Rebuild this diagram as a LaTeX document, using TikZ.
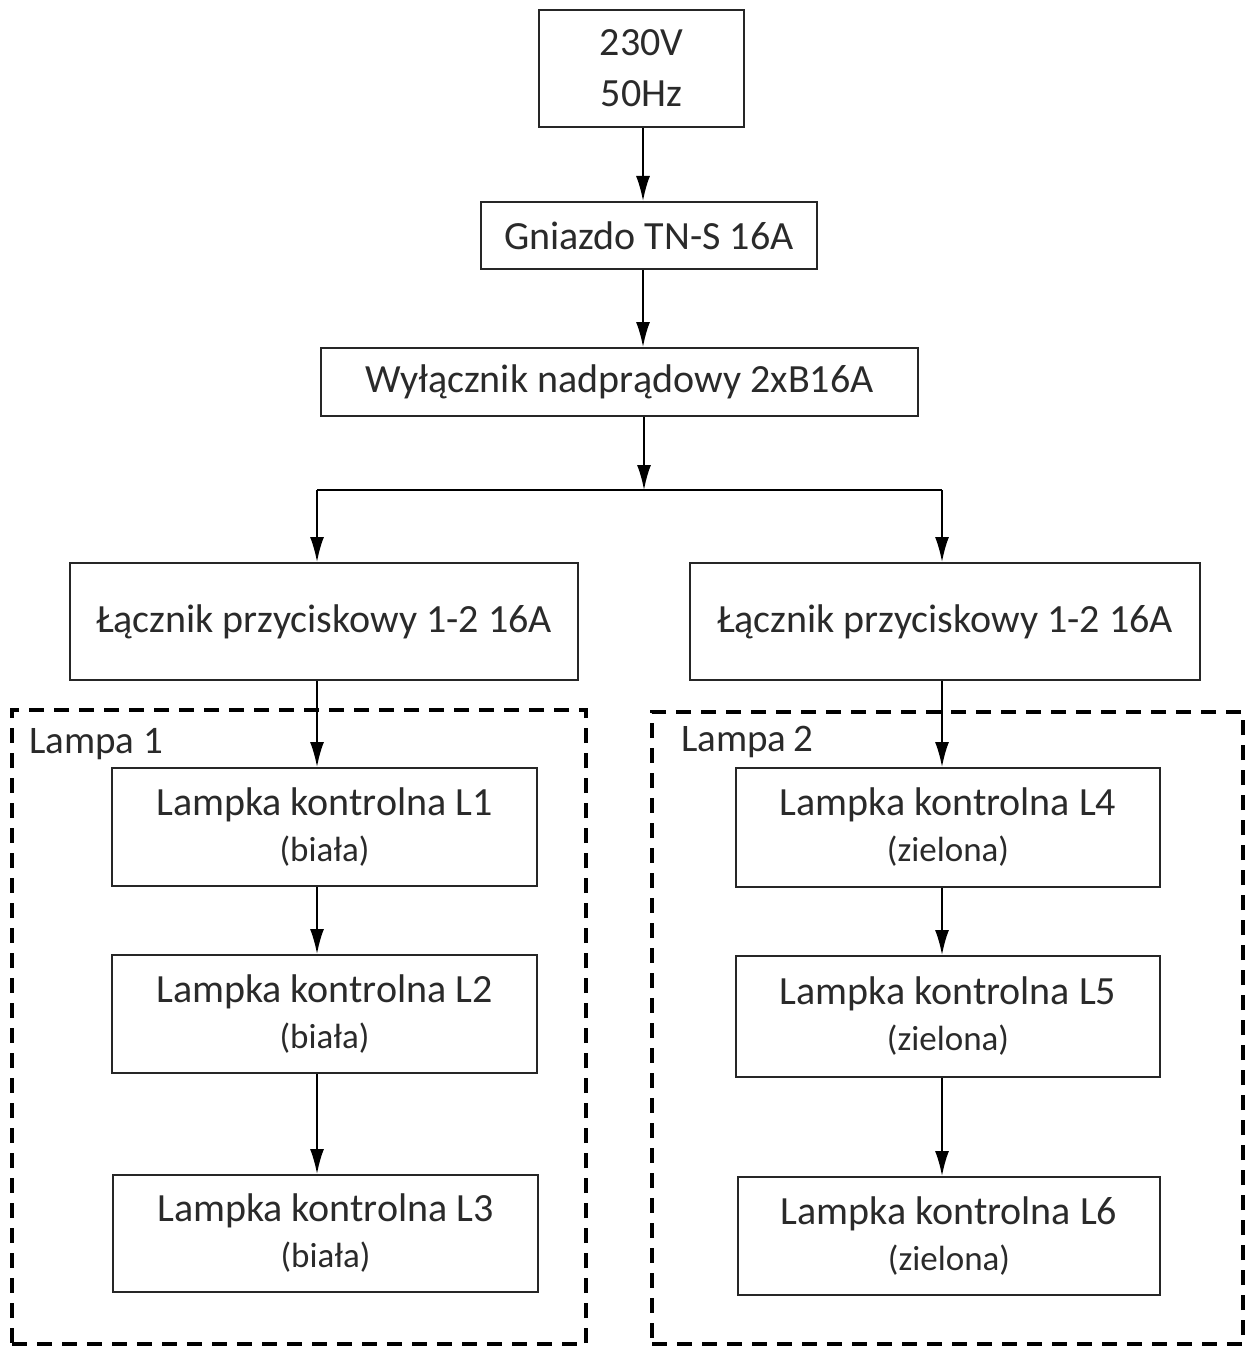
\documentclass[tikz,border=0pt]{standalone}
\usepackage{fontspec}
\setmainfont{Carlito}
\usetikzlibrary{arrows.meta}
\definecolor{txt}{HTML}{2A2A2A}
\tikzset{
  box/.style={draw=black!85, line width=2pt, rectangle, align=center, inner sep=0pt, text=txt},
  group/.style={draw=black, line width=3.6pt, dash pattern=on 15pt off 10pt, rectangle, inner sep=0pt},
  arr/.style={draw=black, line width=1.8pt, -{Latex[length=25pt,width=14pt]}},
  wire/.style={draw=black, line width=1.8pt},
  grplabel/.style={anchor=west, inner sep=0pt, font=\fontsize{39}{44}\selectfont, text=txt},
  lampfont/.style={font=\fontsize{40}{46}\selectfont},
  onefont/.style={font=\fontsize{40}{46}\selectfont}
}
\newcommand{\lampsub}[1]{{\fontsize{35}{46}\selectfont #1}}
\begin{document}
\begin{tikzpicture}[x=1pt,y=-1pt]
\useasboundingbox (0,0) rectangle (1246,1348);
\fill[white] (0,0) rectangle (1246,1348);

% column helpers
\coordinate (cm) at (643,0);
\coordinate (cl) at (317,0);
\coordinate (cr) at (942,0);

% top chain
\node[box, minimum width=205pt, minimum height=117pt, font=\fontsize{40}{51}\selectfont] (src) at (641.5,68.5) {230V\\50Hz};
\node[box, onefont, minimum width=336pt, minimum height=67pt] (gn) at (649,235.5) {Gniazdo TN-S 16A};
\node[box, onefont, minimum width=597pt, minimum height=68pt] (wyl) at (619.5,382) {Wyłącznik nadprądowy 2xB16A};

% branch switches
\node[box, onefont, minimum width=508pt, minimum height=117pt] (lk1) at (324,621.5) {Łącznik przyciskowy 1-2 16A};
\node[box, onefont, minimum width=510pt, minimum height=117pt] (lk2) at (945,621.5) {Łącznik przyciskowy 1-2 16A};

% group frames
\node[group, minimum width=574pt, minimum height=634pt] (g1) at (299,1027) {};
\node[group, minimum width=591pt, minimum height=632pt] (g2) at (947.5,1028) {};
\node[grplabel] (g1l) at (29,744) {Lampa 1};
\node[grplabel] (g2l) at (681,742) {Lampa\,2};

% lamps left
\node[box, lampfont, minimum width=425pt, minimum height=118pt] (l1) at (324.5,827) {Lampka kontrolna L1\\\lampsub{(biała)}};
\node[box, lampfont, minimum width=425pt, minimum height=118pt] (l2) at (324.5,1014) {Lampka kontrolna L2\\\lampsub{(biała)}};
\node[box, lampfont, minimum width=425pt, minimum height=117pt] (l3) at (325.5,1233.5) {Lampka kontrolna L3\\\lampsub{(biała)}};

% lamps right
\node[box, lampfont, minimum width=424pt, minimum height=119pt] (l4) at (948,827.5) {Lampka kontrolna L4\\\lampsub{(zielona)}};
\node[box, lampfont, minimum width=424pt, minimum height=121pt] (l5) at (948,1016.5) {Lampka kontrolna L5\\\lampsub{(zielona)}};
\node[box, lampfont, minimum width=422pt, minimum height=118pt] (l6) at (949,1236) {Lampka kontrolna L6\\\lampsub{(zielona)}};

% connectors top
\draw[arr] (cm |- src.south) -- (cm |- gn.north);
\draw[arr] (cm |- gn.south) -- (cm |- wyl.north);
\coordinate (split) at (644,490);
\coordinate (bl) at (317,490);
\coordinate (br) at (942,490);
\draw[arr] (split |- wyl.south) -- (split);
\draw[wire] (bl) -- (br);
\draw[arr] (bl) -- (bl |- lk1.north);
\draw[arr] (br) -- (br |- lk2.north);

% connectors left
\draw[arr] (cl |- lk1.south) -- (cl |- l1.north);
\draw[arr] (cl |- l1.south) -- (cl |- l2.north);
\draw[arr] (cl |- l2.south) -- (cl |- l3.north);

% connectors right
\draw[arr] (cr |- lk2.south) -- (cr |- l4.north);
\draw[arr] (cr |- l4.south) -- (cr |- l5.north);
\draw[arr] (cr |- l5.south) -- (cr |- l6.north);
\end{tikzpicture}
\end{document}
